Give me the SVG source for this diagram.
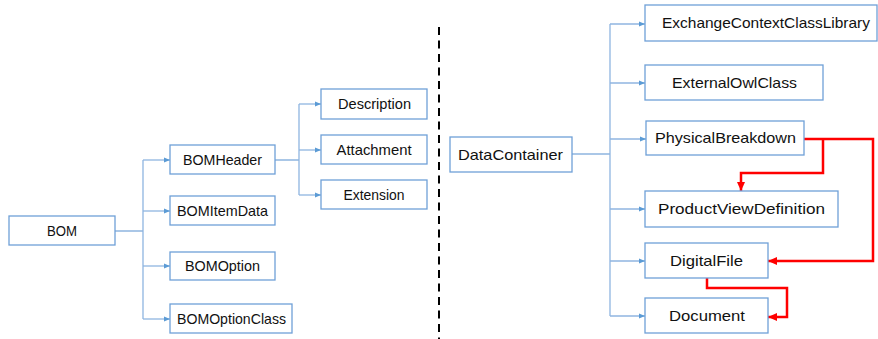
<svg xmlns="http://www.w3.org/2000/svg" width="878" height="339" viewBox="0 0 878 339">
  <defs>
    <marker id="blueArrow" markerWidth="6" markerHeight="6" refX="6" refY="3" orient="auto" markerUnits="userSpaceOnUse">
      <path d="M0,0.5 L6,3 L0,5.5 Z" fill="#5b9bd5"/>
    </marker>
    <marker id="redArrow" markerWidth="9" markerHeight="9" refX="9" refY="4.5" orient="auto" markerUnits="userSpaceOnUse">
      <path d="M0,0.5 L9,4.5 L0,8.5 Z" fill="#ff0000"/>
    </marker>
    <style>
      .box { fill: #ffffff; stroke: #6fa0d8; stroke-width: 1.3; }
      .label { font-family: "Liberation Sans", Arial, sans-serif; font-size: 14.5px; fill: #111111; text-anchor: middle; }
      .tree { fill: none; stroke: #8fb5e0; stroke-width: 1.3; }
      .branch { fill: none; stroke: #8fb5e0; stroke-width: 1.3; marker-end: url(#blueArrow); }
      .link { fill: none; stroke: #ff0000; stroke-width: 2.5; marker-end: url(#redArrow); }
    </style>
  </defs>
  <rect width="878" height="339" fill="#ffffff"/>

  <!-- connectors -->
  <g id="connectors">
    <!-- BOM tree -->
    <path class="tree" d="M115,231 H143 M143,160 V319 M275,160 H299 M299,104 V195"/>
    <path class="branch" d="M143,160 H170"/>
    <path class="branch" d="M143,211 H170"/>
    <path class="branch" d="M143,266 H170"/>
    <path class="branch" d="M143,319 H170"/>
    <path class="branch" d="M299,104 H321"/>
    <path class="branch" d="M299,150 H321"/>
    <path class="branch" d="M299,195 H321"/>
    <!-- DataContainer tree -->
    <path class="tree" d="M572,154 H610 M610,24 V316"/>
    <path class="branch" d="M610,24 H645"/>
    <path class="branch" d="M610,83 H645"/>
    <path class="branch" d="M610,139 H646"/>
    <path class="branch" d="M610,209 H645"/>
    <path class="branch" d="M610,261 H645"/>
    <path class="branch" d="M610,316 H645"/>
    <!-- cross references -->
    <path class="link" d="M804,139 H873 V261 H768"/>
    <path class="link" d="M823,139 V173 H741 V191"/>
    <path class="link" d="M707,278 V288 H787 V317 H768"/>
    <!-- divider -->
    <line x1="439" y1="27" x2="439" y2="339" stroke="#000000" stroke-width="2" stroke-dasharray="8,5.5"/>
  </g>

  <g id="node-bom"><rect class="box" x="9" y="216" width="106" height="29"/><text class="label" x="62" y="235.5" textLength="30" lengthAdjust="spacingAndGlyphs">BOM</text></g>
  <g id="node-bomheader"><rect class="box" x="170" y="145" width="105" height="29"/><text class="label" x="222.5" y="164.5" textLength="79" lengthAdjust="spacingAndGlyphs">BOMHeader</text></g>
  <g id="node-bomitemdata"><rect class="box" x="170" y="196" width="105" height="29"/><text class="label" x="222.5" y="215.5" textLength="91" lengthAdjust="spacingAndGlyphs">BOMItemData</text></g>
  <g id="node-bomoption"><rect class="box" x="170" y="252" width="105" height="28"/><text class="label" x="222.5" y="271" textLength="75" lengthAdjust="spacingAndGlyphs">BOMOption</text></g>
  <g id="node-bomoptionclass"><rect class="box" x="170" y="304" width="122" height="29"/><text class="label" x="231.5" y="323.5" textLength="109" lengthAdjust="spacingAndGlyphs">BOMOptionClass</text></g>
  <g id="node-description"><rect class="box" x="321" y="89" width="106" height="30"/><text class="label" x="374.5" y="109" textLength="73" lengthAdjust="spacingAndGlyphs">Description</text></g>
  <g id="node-attachment"><rect class="box" x="321" y="135" width="106" height="29"/><text class="label" x="374" y="154.5" textLength="75" lengthAdjust="spacingAndGlyphs">Attachment</text></g>
  <g id="node-extension"><rect class="box" x="321" y="180" width="106" height="29"/><text class="label" x="374" y="199.5" textLength="61" lengthAdjust="spacingAndGlyphs">Extension</text></g>

  <g id="node-datacontainer"><rect class="box" x="450" y="137" width="122" height="35"/><text class="label" x="510.5" y="159.5" textLength="105" lengthAdjust="spacingAndGlyphs">DataContainer</text></g>
  <g id="node-exchangecontextclasslibrary"><rect class="box" x="645" y="5" width="232" height="36"/><text class="label" x="766" y="28" textLength="208" lengthAdjust="spacingAndGlyphs">ExchangeContextClassLibrary</text></g>
  <g id="node-externalowlclass"><rect class="box" x="645" y="65" width="178" height="35"/><text class="label" x="734.5" y="87.5" textLength="125" lengthAdjust="spacingAndGlyphs">ExternalOwlClass</text></g>
  <g id="node-physicalbreakdown"><rect class="box" x="646" y="121" width="158" height="34"/><text class="label" x="725.5" y="143" textLength="141" lengthAdjust="spacingAndGlyphs">PhysicalBreakdown</text></g>
  <g id="node-productviewdefinition"><rect class="box" x="645" y="191" width="193" height="36"/><text class="label" x="741.5" y="214" textLength="167" lengthAdjust="spacingAndGlyphs">ProductViewDefinition</text></g>
  <g id="node-digitalfile"><rect class="box" x="645" y="243" width="123" height="35"/><text class="label" x="706.5" y="265.5" textLength="73" lengthAdjust="spacingAndGlyphs">DigitalFile</text></g>
  <g id="node-document"><rect class="box" x="645" y="298" width="123" height="35"/><text class="label" x="707" y="320.5" textLength="76" lengthAdjust="spacingAndGlyphs">Document</text></g>
</svg>
